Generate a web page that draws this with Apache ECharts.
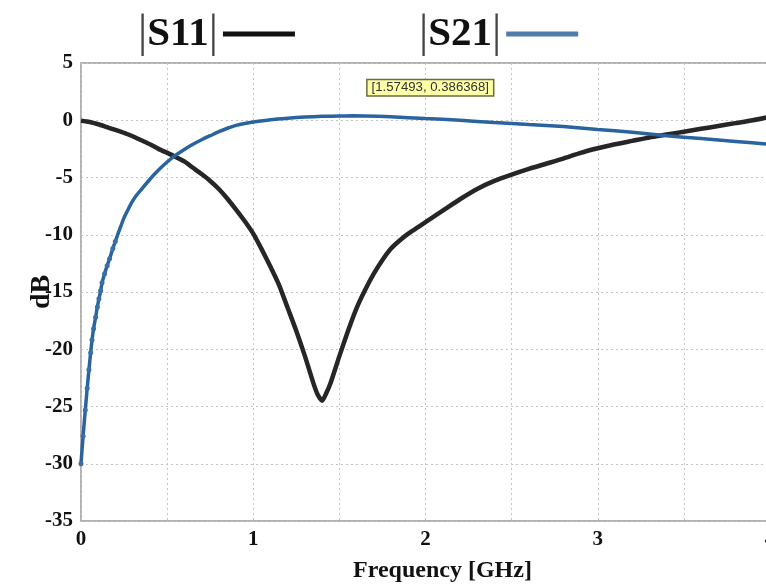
<!DOCTYPE html>
<html>
<head>
<meta charset="utf-8">
<script src="https://cdn.jsdelivr.net/npm/echarts@6/dist/echarts.min.js"></script>
<style>html,body{margin:0;padding:0;background:#fff;}#chart{width:766px;height:588px;}</style>
</head>
<body>
<div id="chart"></div>
<script>
// ---- data ----
const seriesNames = ['|S11|', '|S21|'];

const s11Freq = [0.00,0.05,0.10,0.15,0.20,0.25,0.30,0.35,0.40,0.45,0.50,0.55,0.60,0.65,0.70,0.75,0.80,0.85,0.90,0.95,
  1.00,1.05,1.10,1.15,1.20,1.25,1.30,1.35,1.375,1.40,1.425,1.45,1.50,1.55,1.60,1.65,1.70,1.75,1.80,1.85,1.90,1.95,
  2.00,2.10,2.20,2.30,2.40,2.50,2.60,2.70,2.80,2.90,3.00,3.10,3.20,3.30,3.40,3.50,3.60,3.70,3.80,3.90,4.00];
const s11Db = [-0.05,-0.15,-0.35,-0.6,-0.85,-1.1,-1.4,-1.75,-2.1,-2.5,-2.85,-3.2,-3.6,-4.15,-4.7,-5.3,-6.0,-6.85,-7.8,-8.8,
  -9.9,-11.3,-12.8,-14.4,-16.4,-18.4,-20.6,-23.0,-24.0,-24.5,-23.8,-22.9,-20.6,-18.4,-16.4,-14.8,-13.4,-12.2,-11.2,-10.5,-9.9,-9.4,
  -8.9,-7.9,-6.9,-6.0,-5.3,-4.75,-4.25,-3.8,-3.35,-2.85,-2.45,-2.1,-1.8,-1.5,-1.25,-1.0,-0.75,-0.5,-0.25,0.0,0.3];

const s21Freq = [0.000,0.012,0.025,0.036,0.046,0.056,0.064,0.073,0.085,0.095,0.104,0.114,0.122,0.137,0.152,0.166,0.185,0.199,
  0.215,0.23,0.25,0.27,0.29,0.32,0.35,0.40,0.45,0.50,0.55,0.60,0.65,0.70,0.75,0.80,0.85,0.90,0.95,
  1.00,1.10,1.20,1.30,1.40,1.50,1.575,1.65,1.80,2.00,2.20,2.40,2.60,2.80,3.00,3.20,3.40,3.60,3.80,4.00];
const s21Db = [-30.0,-27.6,-25.3,-23.4,-21.8,-20.3,-19.2,-18.2,-17.2,-16.3,-15.6,-14.9,-14.2,-13.4,-12.7,-12.1,-11.2,-10.6,
  -9.9,-9.3,-8.5,-7.9,-7.3,-6.6,-6.05,-5.15,-4.35,-3.65,-3.05,-2.55,-2.1,-1.7,-1.35,-1.0,-0.7,-0.45,-0.28,
  -0.15,0.05,0.18,0.28,0.34,0.37,0.386,0.38,0.3,0.15,0.0,-0.2,-0.38,-0.55,-0.8,-1.05,-1.35,-1.6,-1.85,-2.1];

const markerPoint = [1.57493, 0.386368];

const xTicks = { min: 0, max: 4, step: 0.5 };
const yTicks = { min: -35, max: 5, step: 5 };

// ---- chart ----
const serif = 'Liberation Serif';
const chart = echarts.init(document.getElementById('chart'), null, { renderer: 'canvas' });
const pairs = (xs, ys) => xs.map((x, i) => [x, ys[i]]);

chart.setOption({
  animation: false,
  backgroundColor: '#ffffff',
  legend: {
    left: 133, top: 6,
    itemGap: 124, itemWidth: 72, itemHeight: 5,
    align: 'right', icon: 'rect', selectedMode: false,
    data: [
      { name: seriesNames[0], itemStyle: { color: '#111111' } },
      { name: seriesNames[1], itemStyle: { color: '#4f7cab' } }
    ],
    formatter: name => '{p||}{b|' + name.replace(/\|/g, '') + '}{p||}',
    textStyle: {
      rich: {
        p: { fontSize: 46, fontFamily: serif, color: '#444' },
        b: { fontSize: 41, fontWeight: 'bold', fontFamily: serif, color: '#111' }
      }
    }
  },
  grid: {
    left: 81, top: 63, right: -4, bottom: 67,
    outerBoundsMode: 'none',
    show: true, borderColor: '#999', borderWidth: 1.5, containLabel: false
  },
  xAxis: {
    type: 'value', min: xTicks.min, max: xTicks.max, interval: xTicks.step,
    name: 'Frequency [GHz]', nameLocation: 'middle', nameGap: 38,
    nameTextStyle: { fontFamily: serif, fontWeight: 'bold', fontSize: 24, color: '#111', padding: [0, 0, 0, 34] },
    axisLine: { show: false }, axisTick: { show: false },
    axisLabel: {
      fontFamily: serif, fontWeight: 'bold', fontSize: 21, color: '#111', margin: 8,
      showMaxLabel: true,
      formatter: v => (Math.abs(v - Math.round(v)) < 1e-9 ? String(Math.round(v)) : '')
    },
    splitLine: { show: true, lineStyle: { color: '#c4c4c4', type: [2, 3], width: 1 } }
  },
  yAxis: {
    type: 'value', min: yTicks.min, max: yTicks.max, interval: yTicks.step,
    name: 'dB', nameLocation: 'middle', nameGap: 25, nameRotate: 90, nameMoveOverlap: false,
    nameTextStyle: { fontFamily: serif, fontWeight: 'bold', fontSize: 28, color: '#111' },
    axisLine: { show: false }, axisTick: { show: false },
    axisLabel: { fontFamily: serif, fontWeight: 'bold', fontSize: 21, color: '#111', margin: 8 },
    splitLine: { show: true, lineStyle: { color: '#c4c4c4', type: [2, 3], width: 1 } }
  },
  series: [
    {
      name: seriesNames[0], type: 'line', smooth: 0.2,
      data: pairs(s11Freq, s11Db),
      showSymbol: false,
      lineStyle: { color: '#262626', width: 4.5 },
      itemStyle: { color: '#111111' }
    },
    {
      name: seriesNames[1], type: 'line', smooth: 0.2,
      data: pairs(s21Freq, s21Db),
      showSymbol: true, showAllSymbol: true, symbol: 'circle',
      symbolSize: v => (v[0] < 0.2 ? 5 : 0),
      lineStyle: { color: '#2a64a0', width: 3.5 },
      itemStyle: { color: '#3a6fa6' },
      markPoint: {
        symbol: 'circle', symbolSize: 0,
        data: [{ coord: markerPoint }],
        label: {
          show: true, position: 'inside', offset: [78, -28],
          formatter: '[' + markerPoint[0] + ', ' + markerPoint[1] + ']',
          backgroundColor: '#ffffa8', borderColor: '#6b6b3a', borderWidth: 1.5,
          padding: [1, 4], fontSize: 13.2, fontFamily: 'Liberation Sans', color: '#333'
        }
      }
    }
  ]
});
</script>
</body>
</html>
